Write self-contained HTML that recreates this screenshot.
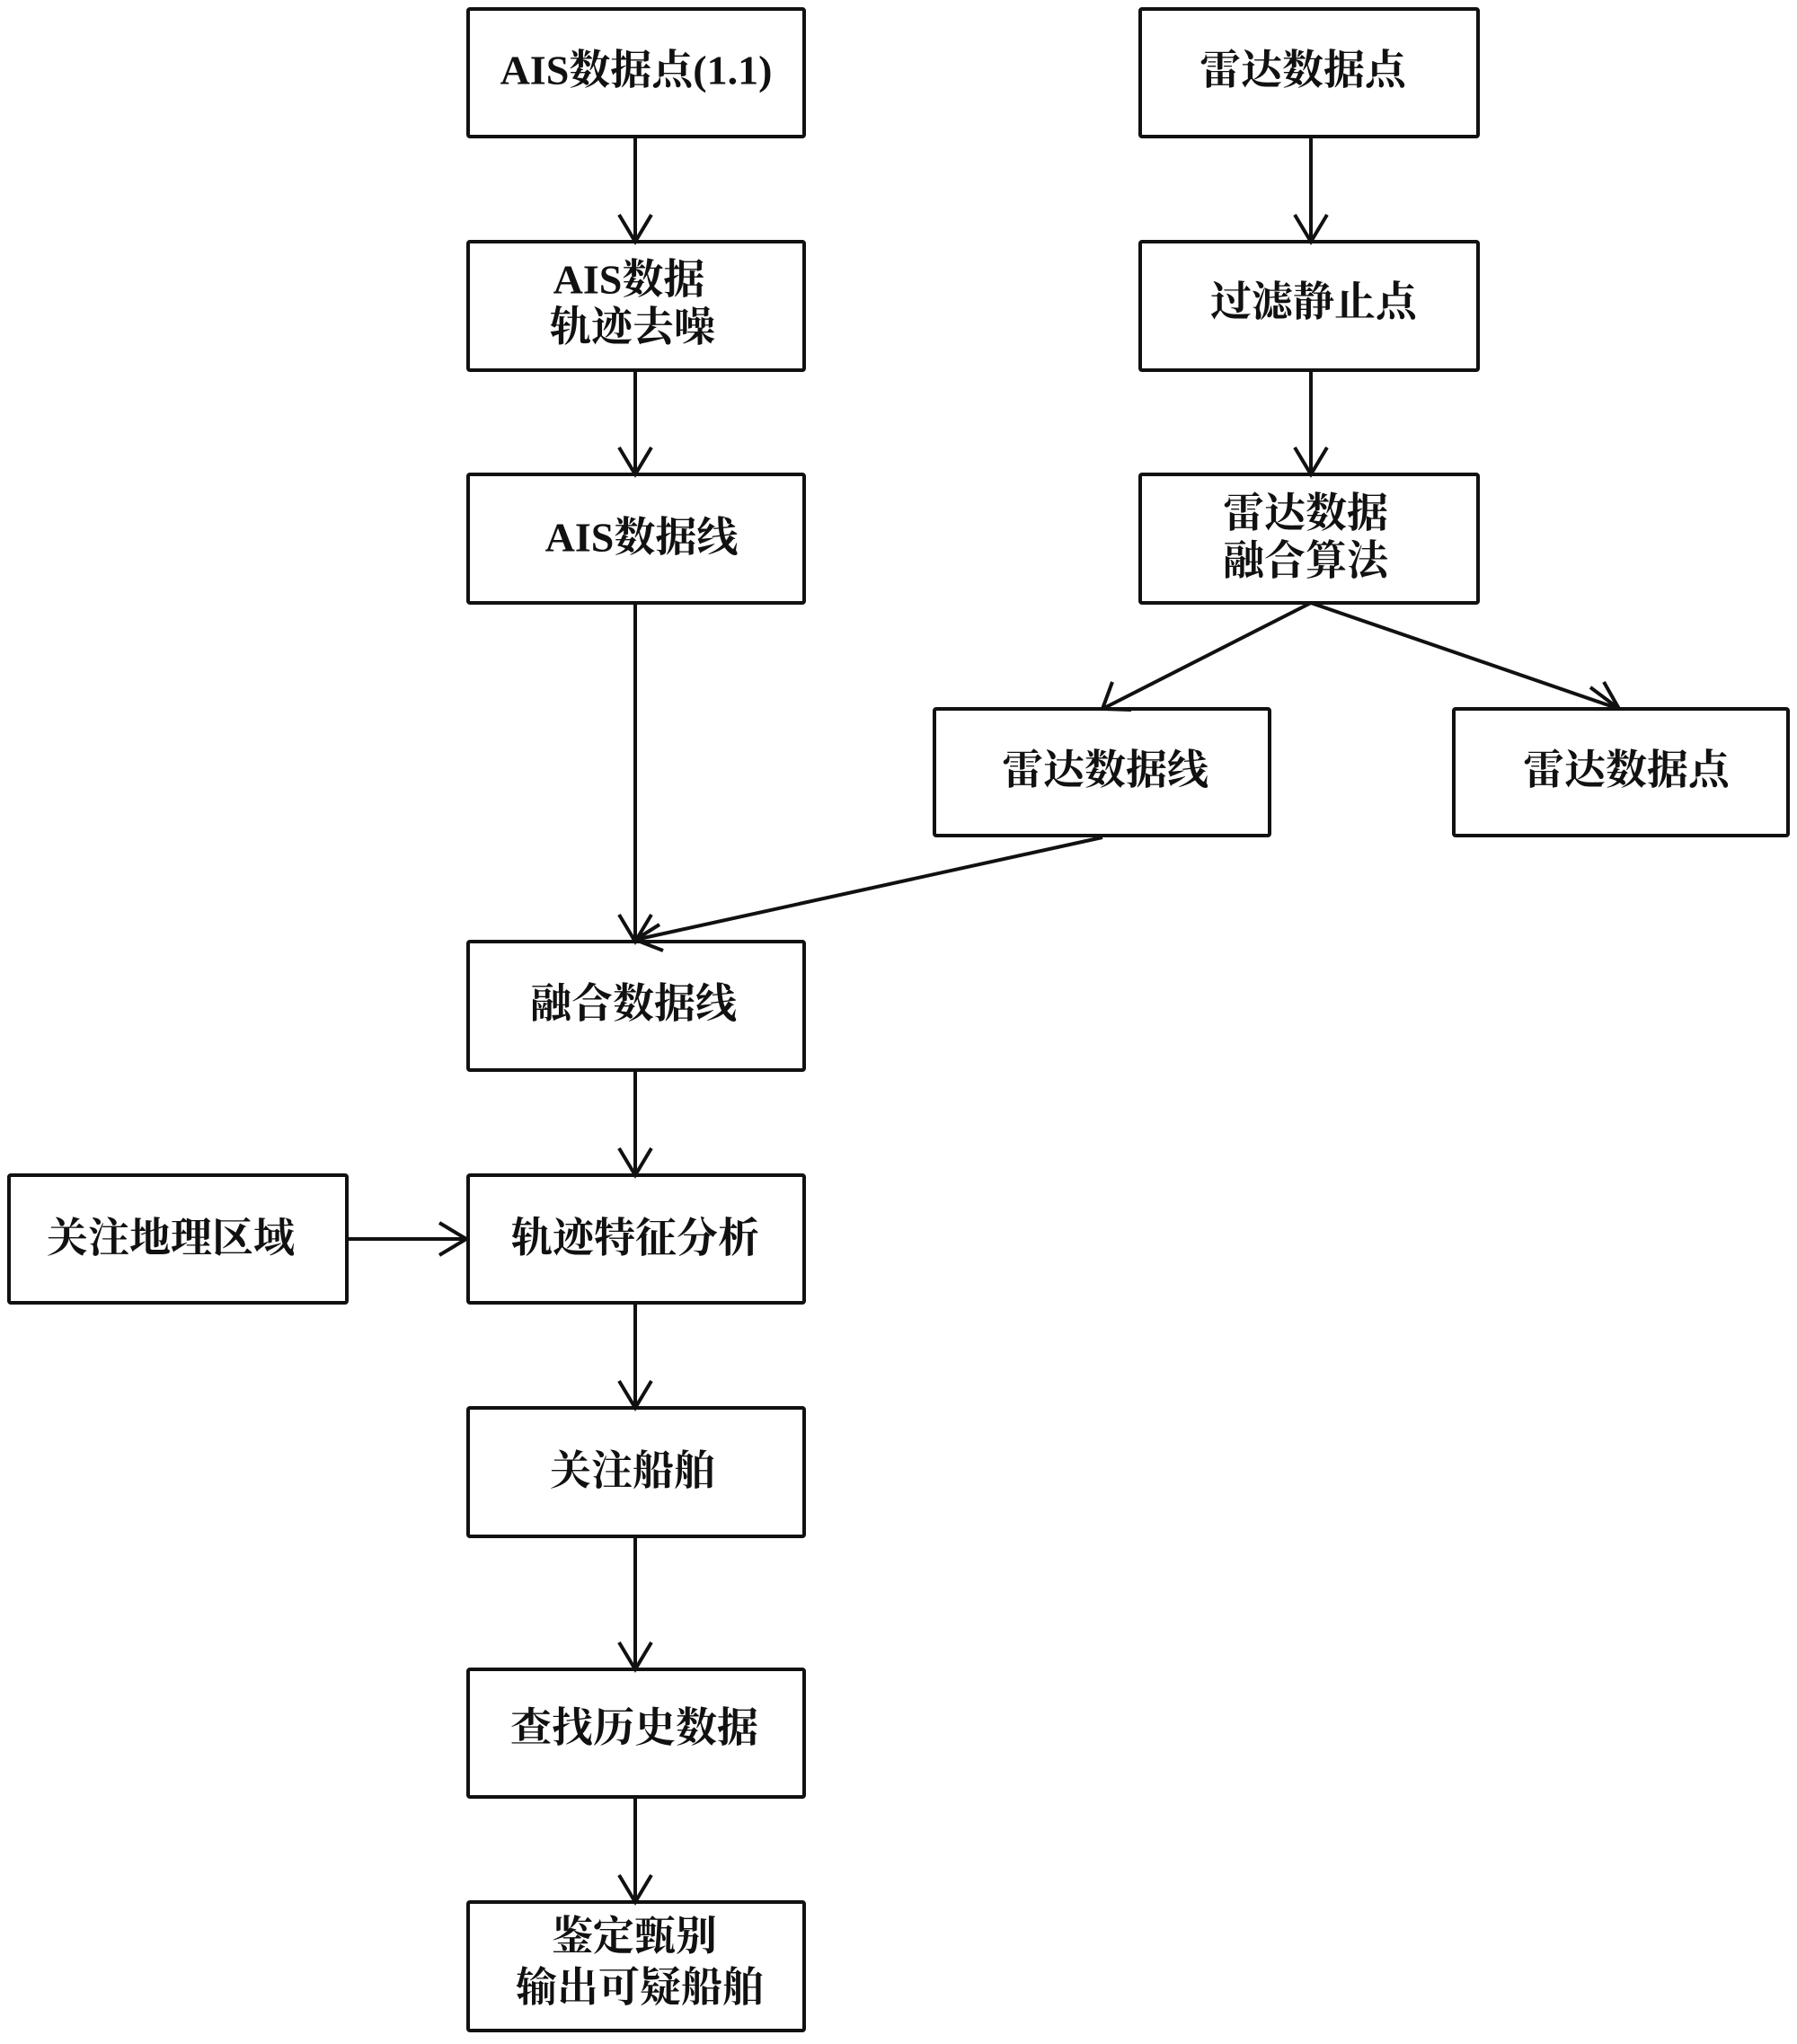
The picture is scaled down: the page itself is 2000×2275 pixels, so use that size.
<!DOCTYPE html>
<html><head><meta charset="utf-8"><style>
html,body{margin:0;padding:0;background:#fff}
svg text{font-family:"Liberation Serif","Noto Serif CJK SC",serif;font-size:46px;font-weight:bold;fill:#111;text-anchor:middle;dominant-baseline:central}
</style></head><body>
<svg width="2000" height="2270" viewBox="0 0 2000 2270" xmlns="http://www.w3.org/2000/svg">
<g fill="none" stroke="#111" stroke-width="4">
<rect x="521" y="10" width="374" height="142" rx="2"/>
<rect x="521" y="269" width="374" height="143" rx="2"/>
<rect x="521" y="528" width="374" height="143" rx="2"/>
<rect x="1269" y="10" width="376" height="142" rx="2"/>
<rect x="1269" y="269" width="376" height="143" rx="2"/>
<rect x="1269" y="528" width="376" height="143" rx="2"/>
<rect x="1040" y="789" width="373" height="141" rx="2"/>
<rect x="1618" y="789" width="372" height="141" rx="2"/>
<rect x="521" y="1048" width="374" height="143" rx="2"/>
<rect x="10" y="1308" width="376" height="142" rx="2"/>
<rect x="521" y="1308" width="374" height="142" rx="2"/>
<rect x="521" y="1567" width="374" height="143" rx="2"/>
<rect x="521" y="1858" width="374" height="142" rx="2"/>
<rect x="521" y="2117" width="374" height="143" rx="2"/>
<!-- connectors -->
<path d="M707 152V269M689 239L707 269L725 239"/>
<path d="M707 412V528M689 498L707 528L725 498"/>
<path d="M707 671V1048M689 1018L707 1048L725 1018"/>
<path d="M1459 152V269M1441 239L1459 269L1477 239"/>
<path d="M1459 412V528M1441 498L1459 528L1477 498"/>
<path d="M1459 671L1227 789M1238 759L1227 789L1259 790"/>
<path d="M1459 671L1802 789M1770 765L1802 789L1785 759" />
<path d="M1227 932L707 1046M734 1029L707 1046L738 1058"/>
<path d="M707 1191V1308M689 1278L707 1308L725 1278"/>
<path d="M386 1379H519M489 1361L519 1379L489 1397"/>
<path d="M707 1450V1567M689 1537L707 1567L725 1537"/>
<path d="M707 1710V1858M689 1828L707 1858L725 1828"/>
<path d="M707 2000V2117M689 2087L707 2117L725 2087"/>
</g>
<text x="708" y="78">AIS数据点(1.1)</text>
<text x="700" y="311">AIS数据</text>
<text x="704" y="364">轨迹去噪</text>
<text x="714" y="598">AIS数据线</text>
<text x="1450" y="78">雷达数据点</text>
<text x="1462" y="336">过滤静止点</text>
<text x="1453" y="571">雷达数据</text>
<text x="1453" y="624">融合算法</text>
<text x="1230" y="857">雷达数据线</text>
<text x="1810" y="857">雷达数据点</text>
<text x="705" y="1117">融合数据线</text>
<text x="190" y="1378">关注地理区域</text>
<text x="707" y="1378">轨迹特征分析</text>
<text x="704" y="1637">关注船舶</text>
<text x="706" y="1923">查找历史数据</text>
<text x="706" y="2155">鉴定甄别</text>
<text x="712" y="2212">输出可疑船舶</text>
</svg>
</body></html>
